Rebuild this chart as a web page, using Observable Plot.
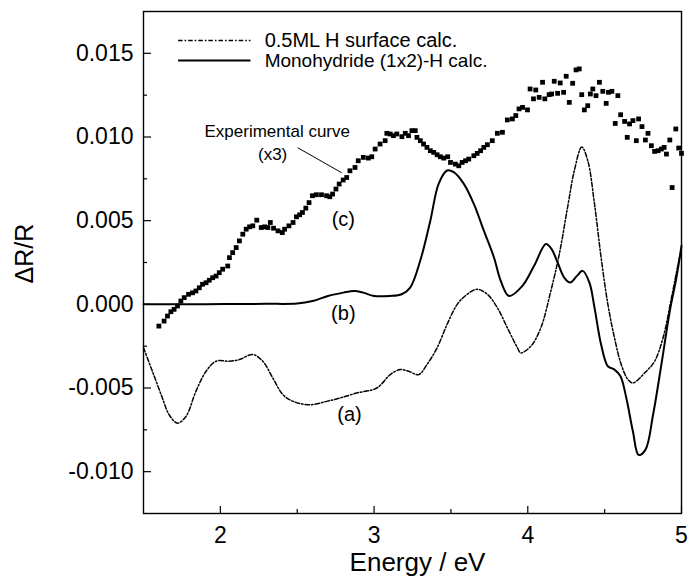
<!DOCTYPE html>
<html>
<head>
<meta charset="utf-8">
<script src="https://cdn.jsdelivr.net/npm/d3@7"></script>
<script src="https://cdn.jsdelivr.net/npm/@observablehq/plot@0.6"></script>
<style>
  html, body { margin: 0; padding: 0; background: #fff; }
</style>
</head>
<body>
<div id="chart"></div>
<script>
// ---- Experimental curve (c), x3 ----
const expEnergy = [1.600,1.634,1.656,1.678,1.699,1.721,1.743,1.765,1.793,1.819,1.841,1.863,1.884,1.907,1.928,1.950,1.972,1.993,2.015,2.048,2.059,2.080,2.103,2.124,2.146,2.168,2.190,2.211,2.237,2.266,2.288,2.309,2.325,2.346,2.375,2.403,2.418,2.446,2.473,2.495,2.516,2.534,2.556,2.577,2.599,2.625,2.658,2.691,2.712,2.730,2.752,2.773,2.799,
  2.822,2.843,2.876,2.897,2.930,2.963,2.985,3.007,3.039,3.072,3.083,3.105,3.126,3.148,3.181,3.203,3.224,3.246,3.268,3.279,3.301,3.322,3.344,3.366,3.388,3.410,3.431,3.453,3.479,3.497,3.529,3.551,3.573,3.595,3.616,3.649,3.671,3.693,3.714,3.737,3.769,3.802,3.835,3.867,3.900,3.922,3.943,3.966,
  3.998,4.015,4.052,4.037,4.074,4.096,4.111,4.139,4.155,4.172,4.194,4.211,4.233,4.250,4.270,4.292,4.314,4.335,4.351,4.368,4.390,4.407,4.423,4.444,4.466,4.488,4.510,4.525,4.547,4.586,4.569,4.604,4.630,4.647,4.662,4.684,4.706,4.721,4.743,4.765,4.782,4.804,4.825,4.848,4.869,4.887,4.902,4.924,4.939,4.963,4.982,5.000];
const expDR = [-0.00130,-0.00100,-0.00070,-0.00044,-0.00030,-0.00010,0.00020,0.00040,0.00060,0.00069,0.00080,0.00099,0.00120,0.00129,0.00144,0.00159,0.00169,0.00189,0.00210,0.00229,0.00279,0.00309,0.00339,0.00379,0.00419,0.00449,0.00463,0.00469,0.00503,0.00459,0.00463,0.00459,0.00489,0.00455,0.00439,0.00429,0.00449,0.00469,0.00489,0.00523,0.00535,0.00549,0.00575,0.00608,0.00649,0.00655,0.00655,0.00649,0.00643,0.00659,0.00689,0.00719,0.00743,
  0.00758,0.00798,0.00818,0.00858,0.00878,0.00874,0.00882,0.00928,0.00958,0.00978,0.01022,0.01018,0.01008,0.01018,0.01002,0.01022,0.01008,0.01038,0.01038,0.00998,0.00978,0.00958,0.00938,0.00918,0.00908,0.00894,0.00882,0.00874,0.00882,0.00848,0.00838,0.00828,0.00848,0.00858,0.00868,0.00888,0.00902,0.00918,0.00938,0.00954,0.00978,0.01022,0.01028,0.01102,0.01108,0.01128,0.01168,0.01177,
  0.01162,0.01287,0.01281,0.01228,0.01237,0.01327,0.01228,0.01253,0.01257,0.01333,0.01261,0.01323,0.01267,0.01363,0.01207,0.01321,0.01401,0.01407,0.01253,0.01162,0.01187,0.01257,0.01287,0.01247,0.01327,0.01273,0.01201,0.01267,0.01273,0.01247,0.01081,0.01133,0.01093,0.00998,0.01078,0.01098,0.00978,0.01108,0.01062,0.00982,0.01022,0.00948,0.00914,0.00918,0.00928,0.00938,0.00898,0.00982,0.00698,0.01048,0.00934,0.00902];

// ---- (b) Monohydride (1x2)-H calc. (solid) ----
const monoEnergy = [1.5,1.7,1.9,2.1,2.3,2.5,2.6,2.7,2.8,2.87,2.93,3.0,3.1,3.18,3.235,3.30,3.366,3.42,3.475,3.518,3.584,3.649,3.714,3.78,3.824,3.878,3.965,4.041,4.118,4.155,4.194,4.237,4.276,4.32,4.357,4.401,4.434,4.477,4.521,4.564,4.603,4.641,4.684,4.721,4.765,4.815,4.869,4.924,4.967,5.0];
const monoDR = [0,0,0,0.00002,0.00003,0.00005,0.0002,0.0005,0.0007,0.0008,0.0007,0.0005,0.0005,0.0006,0.0010,0.0026,0.0050,0.0072,0.0080,0.0079,0.0072,0.0060,0.0044,0.0028,0.0014,0.0005,0.0011,0.0023,0.0036,0.0033,0.0025,0.0016,0.0013,0.0017,0.0020,0.0013,-0.0002,-0.0024,-0.0037,-0.0039,-0.0043,-0.0056,-0.0076,-0.0090,-0.0087,-0.0066,-0.0036,-0.0004,0.0016,0.0035];

// ---- (a) 0.5ML H surface calc. (dash-dot) ----
const halfEnergy = [1.5,1.558,1.623,1.667,1.721,1.776,1.841,1.907,1.972,2.059,2.124,2.211,2.276,2.341,2.407,2.473,2.582,2.691,2.778,2.887,3.018,3.105,3.17,3.224,3.29,3.344,3.41,3.475,3.541,3.606,3.671,3.737,3.802,3.867,3.933,3.954,4.02,4.085,4.15,4.205,4.259,4.303,4.351,4.39,4.434,4.477,4.521,4.564,4.608,4.652,4.684,4.76,4.825,4.88,4.935,4.978,5.0];
const halfDR = [-0.0026,-0.0040,-0.0056,-0.0066,-0.0071,-0.0067,-0.0052,-0.0040,-0.0034,-0.0034,-0.0033,-0.0030,-0.0034,-0.0044,-0.0054,-0.0058,-0.0060,-0.0058,-0.0056,-0.0053,-0.0050,-0.0042,-0.0039,-0.0040,-0.0042,-0.0036,-0.0026,-0.0012,0.0000,0.0006,0.0009,0.0006,-0.0002,-0.0014,-0.0026,-0.0029,-0.0025,-0.0014,0.0008,0.0030,0.0058,0.0080,0.0094,0.0086,0.0060,0.0028,0.0000,-0.0020,-0.0036,-0.0045,-0.0047,-0.0041,-0.0034,-0.0020,0.0004,0.0024,0.0033];

// ---- ticks & labels ----
const xTicks = [2, 3, 4, 5];
const xMinorTicks = [2.5, 3.5, 4.5];
const yTicks = [-0.010, -0.005, 0.000, 0.005, 0.010, 0.015];
const yMinorTicks = [-0.0075, -0.0025, 0.0025, 0.0075, 0.0125];
const legendNames = ["0.5ML H surface calc.", "Monohydride (1x2)-H calc."];
const curveLabels = ["(a)", "(b)", "(c)"];
const xLabel = "Energy / eV";
const yLabel = "\u0394R/R";

const zip = (xs, ys) => xs.map((x, i) => ({x, y: ys[i]}));
const expData = zip(expEnergy, expDR);
const monoData = zip(monoEnergy, monoDR);
const halfData = zip(halfEnergy, halfDR);

// legend & annotation anchor positions (data units)
const legendRows = [
  {name: legendNames[0], x1: 1.725, x2: 2.196, xt: 2.288, y: 0.01577, ty: 0.01540, dash: true, fs: 20},
  {name: legendNames[1], x1: 1.725, x2: 2.196, xt: 2.288, y: 0.01457, ty: 0.01420, dash: false, fs: 19}
];
const labelPos = [
  {t: curveLabels[0], x: 2.84, y: -0.0066},
  {t: curveLabels[1], x: 2.80, y: -0.00058},
  {t: curveLabels[2], x: 2.80, y: 0.00505}
];
const expNote = [
  {t: "Experimental curve", x: 2.37, y: 0.01030},
  {t: "(x3)", x: 2.34, y: 0.00894}
];
const pointer = [{x1: 2.503, y1: 0.00936, x2: 2.79, y2: 0.00786}];

const DASH = "4.5,2,1.6,2";
const FONT = "Liberation Sans, Arial, Helvetica, sans-serif";

const chart = Plot.plot({
  width: 689,
  height: 580,
  marginLeft: 143,
  marginRight: 8,
  marginTop: 11,
  marginBottom: 67,
  style: {fontFamily: FONT, color: "black", background: "white"},
  x: {domain: [1.5, 5]},
  y: {domain: [-0.0125, 0.0175]},
  marks: [
    Plot.frame({stroke: "black", strokeWidth: 1.4}),
    // inward ticks
    Plot.axisY(yTicks, {tickSize: 8, dx: 8, tickFormat: () => "", label: null, strokeWidth: 1.2}),
    Plot.axisY(yMinorTicks, {tickSize: 4, dx: 4, tickFormat: () => "", label: null, strokeWidth: 1.2}),
    Plot.axisY(yTicks, {tickSize: 0, tickPadding: 10, tickFormat: d => d.toFixed(3), fontSize: 23, label: null}),
    Plot.axisX(xTicks, {tickSize: 7, dy: -7, tickFormat: () => "", label: null, strokeWidth: 1.2}),
    Plot.axisX(xMinorTicks, {tickSize: 4, dy: -4, tickFormat: () => "", label: null, strokeWidth: 1.2}),
    Plot.axisX(xTicks, {tickSize: 0, tickPadding: 13, tickFormat: d => String(d), fontSize: 23, label: null}),
    Plot.text([xLabel], {frameAnchor: "bottom", dy: 57, dx: 5, lineAnchor: "bottom", fontSize: 26, fill: "black"}),
    Plot.text([yLabel], {frameAnchor: "left", dx: -119, dy: 21, rotate: -90, fontSize: 25, fill: "black"}),
    // curves
    Plot.line(halfData, {x: "x", y: "y", stroke: "black", strokeWidth: 1.5, strokeDasharray: DASH, curve: "catmull-rom"}),
    Plot.line(monoData, {x: "x", y: "y", stroke: "black", strokeWidth: 2, curve: "catmull-rom"}),
    Plot.dot(expData, {x: "x", y: "y", symbol: "square", r: 2.7, fill: "black", stroke: null}),
    // legend
    Plot.link(legendRows.filter(d => d.dash), {x1: "x1", x2: "x2", y1: "y", y2: "y", stroke: "black", strokeWidth: 1.5, strokeDasharray: DASH}),
    Plot.link(legendRows.filter(d => !d.dash), {x1: "x1", x2: "x2", y1: "y", y2: "y", stroke: "black", strokeWidth: 2}),
    Plot.text(legendRows, {x: "xt", y: "ty", text: "name", textAnchor: "start", lineAnchor: "bottom", fontSize: d => d.fs, fill: "black"}),
    // annotations
    Plot.text(labelPos, {x: "x", y: "y", text: "t", fontSize: 20, fill: "black"}),
    Plot.text(expNote, {x: "x", y: "y", text: "t", fontSize: 17, fill: "black"}),
    Plot.link(pointer, {x1: "x1", y1: "y1", x2: "x2", y2: "y2", stroke: "black", strokeWidth: 1})
  ]
});
document.getElementById("chart").appendChild(chart);
</script>
</body>
</html>
